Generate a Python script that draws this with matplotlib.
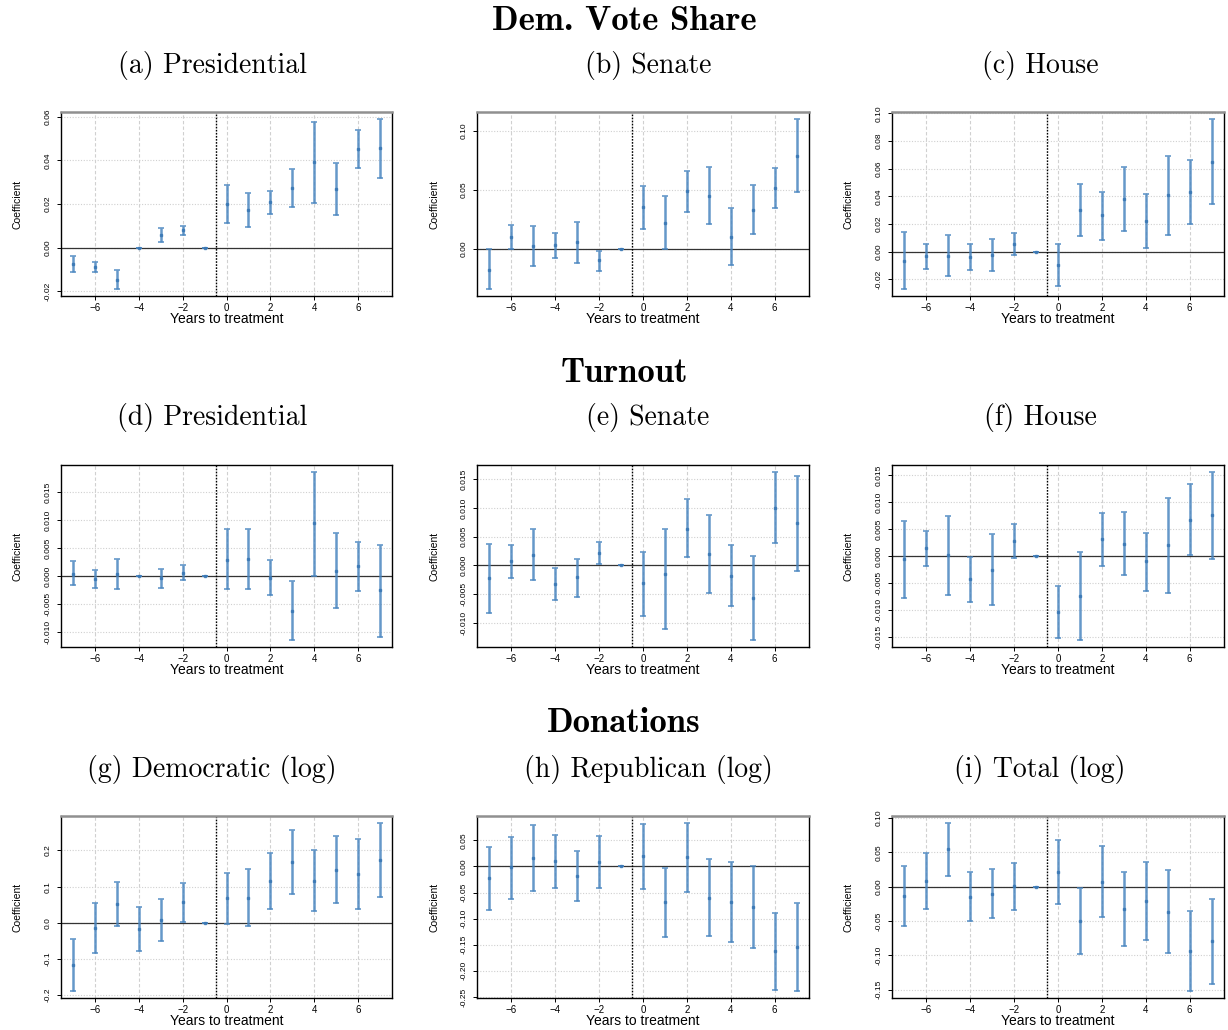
import matplotlib
matplotlib.use("Agg")
import matplotlib.pyplot as plt
from matplotlib.ticker import MultipleLocator, FormatStrFormatter
from matplotlib import font_manager
import numpy as np

years = list(range(-7, 8))

# Dem. Vote Share
pres_vote_est = [-0.0073, -0.0087, -0.0147, 0.0, 0.0059, 0.0079, 0.0, 0.0202, 0.0172, 0.0208, 0.0274, 0.0390, 0.0270, 0.0454, 0.0456]
pres_vote_lo = [-0.0113, -0.0110, -0.0190, 0.0, 0.0028, 0.0059, 0.0, 0.0112, 0.0093, 0.0155, 0.0188, 0.0203, 0.0149, 0.0367, 0.0321]
pres_vote_hi = [-0.0036, -0.0065, -0.0104, 0.0, 0.0088, 0.0098, 0.0, 0.0288, 0.0250, 0.0260, 0.0360, 0.0577, 0.0388, 0.0540, 0.0590]

sen_vote_est = [-0.0178, 0.0098, 0.0020, 0.0029, 0.0052, -0.0100, 0.0, 0.0350, 0.0221, 0.0489, 0.0451, 0.0100, 0.0330, 0.0514, 0.0790]
sen_vote_lo = [-0.0345, 0.0000, -0.0152, -0.0078, -0.0120, -0.0190, 0.0, 0.0164, -0.0006, 0.0310, 0.0210, -0.0138, 0.0121, 0.0345, 0.0480]
sen_vote_hi = [-0.0006, 0.0201, 0.0190, 0.0135, 0.0224, -0.0017, 0.0, 0.0534, 0.0445, 0.0661, 0.0690, 0.0342, 0.0540, 0.0687, 0.1103]

house_vote_est = [-0.0064, -0.0032, -0.0029, -0.0037, -0.0022, 0.0056, 0.0, -0.0095, 0.0303, 0.0264, 0.0379, 0.0222, 0.0408, 0.0430, 0.0650]
house_vote_lo = [-0.0271, -0.0122, -0.0176, -0.0132, -0.0142, -0.0024, 0.0, -0.0249, 0.0117, 0.0088, 0.0149, 0.0029, 0.0120, 0.0198, 0.0345]
house_vote_hi = [0.0144, 0.0059, 0.0120, 0.0059, 0.0095, 0.0137, 0.0, 0.0059, 0.0489, 0.0433, 0.0609, 0.0418, 0.0692, 0.0665, 0.0961]

# Turnout
pres_turn_est = [0.0004, -0.0006, 0.0003, 0.0, -0.0003, 0.0005, 0.0, 0.0029, 0.0030, -0.0003, -0.0062, 0.0094, 0.0009, 0.0017, -0.0026]
pres_turn_lo = [-0.0017, -0.0021, -0.0024, 0.0, -0.0021, -0.0008, 0.0, -0.0024, -0.0023, -0.0035, -0.0115, 0.0000, -0.0058, -0.0027, -0.0109]
pres_turn_hi = [0.0027, 0.0010, 0.0030, 0.0, 0.0013, 0.0019, 0.0, 0.0083, 0.0083, 0.0029, -0.0009, 0.0186, 0.0076, 0.0060, 0.0056]

sen_turn_est = [-0.0022, 0.0007, 0.0019, -0.0032, -0.0020, 0.0022, 0.0, -0.0031, -0.0015, 0.0064, 0.0020, -0.0018, -0.0057, 0.0100, 0.0074]
sen_turn_lo = [-0.0082, -0.0021, -0.0026, -0.0060, -0.0054, 0.0002, 0.0, -0.0088, -0.0111, 0.0015, -0.0048, -0.0071, -0.0130, 0.0039, -0.0009]
sen_turn_hi = [0.0038, 0.0036, 0.0063, -0.0005, 0.0012, 0.0041, 0.0, 0.0024, 0.0064, 0.0115, 0.0088, 0.0036, 0.0016, 0.0163, 0.0156]

house_turn_est = [-0.0006, 0.0014, 0.0001, -0.0043, -0.0025, 0.0027, 0.0, -0.0103, -0.0074, 0.0031, 0.0023, -0.0010, 0.0020, 0.0067, 0.0075]
house_turn_lo = [-0.0077, -0.0019, -0.0073, -0.0085, -0.0090, -0.0004, 0.0, -0.0151, -0.0156, -0.0019, -0.0035, -0.0064, -0.0069, 0.0001, -0.0006]
house_turn_hi = [0.0064, 0.0046, 0.0074, -0.0002, 0.0040, 0.0059, 0.0, -0.0056, 0.0007, 0.0080, 0.0082, 0.0042, 0.0108, 0.0133, 0.0156]

# Donations
dem_don_est = [-0.1176, -0.0148, 0.0528, -0.0167, 0.0074, 0.0565, 0.0, 0.0676, 0.0694, 0.1148, 0.1676, 0.1167, 0.1472, 0.1352, 0.1750]
dem_don_lo = [-0.1900, -0.0843, -0.0083, -0.0778, -0.0500, 0.0028, 0.0, -0.0037, -0.0093, 0.0380, 0.0787, 0.0315, 0.0546, 0.0380, 0.0722]
dem_don_hi = [-0.0444, 0.0546, 0.1139, 0.0435, 0.0657, 0.1110, 0.0, 0.1389, 0.1490, 0.1935, 0.2565, 0.2019, 0.2389, 0.2324, 0.2769]

rep_don_est = [-0.0224, -0.0019, 0.0160, 0.0096, -0.0179, 0.0090, 0.0, 0.0198, -0.0690, 0.0173, -0.0595, -0.0678, -0.0774, -0.1624, -0.1541]
rep_don_lo = [-0.0825, -0.0614, -0.0473, -0.0416, -0.0665, -0.0409, 0.0, -0.0428, -0.1355, -0.0492, -0.1324, -0.1445, -0.1554, -0.2359, -0.2391]
rep_don_hi = [0.0371, 0.0569, 0.0793, 0.0601, 0.0300, 0.0582, 0.0, 0.0812, -0.0026, 0.0838, 0.0141, 0.0090, 0.0000, -0.0895, -0.0703]

tot_don_est = [-0.0131, 0.0083, 0.0540, -0.0151, -0.0102, 0.0005, 0.0, 0.0214, -0.0501, 0.0073, -0.0321, -0.0204, -0.0365, -0.0939, -0.0793]
tot_don_lo = [-0.0574, -0.0326, 0.0156, -0.0506, -0.0462, -0.0340, 0.0, -0.0253, -0.0978, -0.0443, -0.0866, -0.0778, -0.0969, -0.1523, -0.1416]
tot_don_hi = [0.0297, 0.0491, 0.0929, 0.0214, 0.0253, 0.0345, 0.0, 0.0676, -0.0024, 0.0584, 0.0214, 0.0360, 0.0238, -0.0355, -0.0175]

section_titles = ["Dem. Vote Share", "Turnout", "Donations"]
panel_titles = [["(a) Presidential", "(b) Senate", "(c) House"],
                ["(d) Presidential", "(e) Senate", "(f) House"],
                ["(g) Democratic (log)", "(h) Republican (log)", "(i) Total (log)"]]
panel_data = [[(pres_vote_est, pres_vote_lo, pres_vote_hi),
               (sen_vote_est, sen_vote_lo, sen_vote_hi),
               (house_vote_est, house_vote_lo, house_vote_hi)],
              [(pres_turn_est, pres_turn_lo, pres_turn_hi),
               (sen_turn_est, sen_turn_lo, sen_turn_hi),
               (house_turn_est, house_turn_lo, house_turn_hi)],
              [(dem_don_est, dem_don_lo, dem_don_hi),
               (rep_don_est, rep_don_lo, rep_don_hi),
               (tot_don_est, tot_don_lo, tot_don_hi)]]
y_steps = [[0.02, 0.05, 0.02], [0.005, 0.005, 0.005], [0.1, 0.05, 0.05]]
y_decimals = [[2, 2, 2], [3, 3, 3], [1, 2, 2]]

names = {f.name for f in font_manager.fontManager.ttflist}
narrow = "Liberation Sans Narrow" if "Liberation Sans Narrow" in names else "Liberation Sans"
sans = "Liberation Sans"

W, H = 1228, 1030
fig = plt.figure(figsize=(W / 100, H / 100), dpi=100)
fig.patch.set_facecolor("white")

col_lr = [(61, 392), (477, 809), (892, 1224)]
row_tb = [(112, 296), (465, 647), (816, 998)]
section_y = [21, 373, 723]
sub_y = [66, 418, 769]
sub_x = [212, 648, 1040]

bar_color = "#4a86c0"

for r in range(3):
    fig.text(624 / W, 1 - section_y[r] / H, section_titles[r], family="cmb10",
             fontsize=25, ha="center", va="center")
    for c in range(3):
        fig.text(sub_x[c] / W, 1 - sub_y[r] / H, panel_titles[r][c], family="cmr10",
                 fontsize=20, ha="center", va="center")
        l, rr = col_lr[c]
        t, b = row_tb[r]
        aw, ah = rr - l, b - t
        ax = fig.add_axes([l / W, 1 - b / H, aw / W, ah / H])
        est, lo, hi = (np.array(a) for a in panel_data[r][c])
        x = np.array(years)
        ax.errorbar(x, est, yerr=[est - lo, hi - est], fmt="s", ms=1.8,
                    color="#3a78b5", ecolor=bar_color, elinewidth=1.8,
                    capsize=2.2, capthick=1.2, alpha=0.85, zorder=3)
        ymin, ymax = lo.min(), hi.max()
        pad = 0.04 * (ymax - ymin)
        ax.set_ylim(ymin - pad, ymax + pad)
        ax.set_xlim(-7.56, 7.56)
        ax.axhline(0, color="#333333", lw=0.9, zorder=2)
        ax.axvline(-0.5, color="black", lw=1.0, ls=(0, (1.2, 1.0)), zorder=2)
        ax.xaxis.set_major_locator(MultipleLocator(2))
        ax.yaxis.set_major_locator(MultipleLocator(y_steps[r][c]))
        ax.yaxis.set_major_formatter(FormatStrFormatter("%%.%df" % y_decimals[r][c]))
        ax.grid(axis="x", color="#d0d0d0", lw=0.8, ls=(0, (3, 2)), zorder=0)
        ax.grid(axis="y", color="#d0d0d0", lw=0.8, ls=(0, (1, 1.5)), zorder=0)
        ax.tick_params(axis="x", labelsize=7, length=3, width=0.7, pad=2)
        ax.tick_params(axis="y", labelsize=6, length=3, width=0.7, pad=4,
                       labelrotation=90)
        for lab in ax.get_xticklabels():
            lab.set_family(sans)
        for lab in ax.get_yticklabels():
            lab.set_family(narrow)
            lab.set_va("center")
        ax.set_xlabel("Years to treatment", family=sans, fontsize=10)
        ax.xaxis.set_label_coords(0.5, -16 / ah)
        ax.set_ylabel("Coefficient", family=narrow, fontsize=7.5)
        ax.yaxis.set_label_coords(-38 / aw, 0.5)
        for s in ax.spines.values():
            s.set_linewidth(1.0)
            s.set_color("black")
        if r != 1:
            ax.spines["top"].set_color("#909090")
            ax.spines["top"].set_linewidth(1.8)

fig.savefig("out.png", dpi=100)
